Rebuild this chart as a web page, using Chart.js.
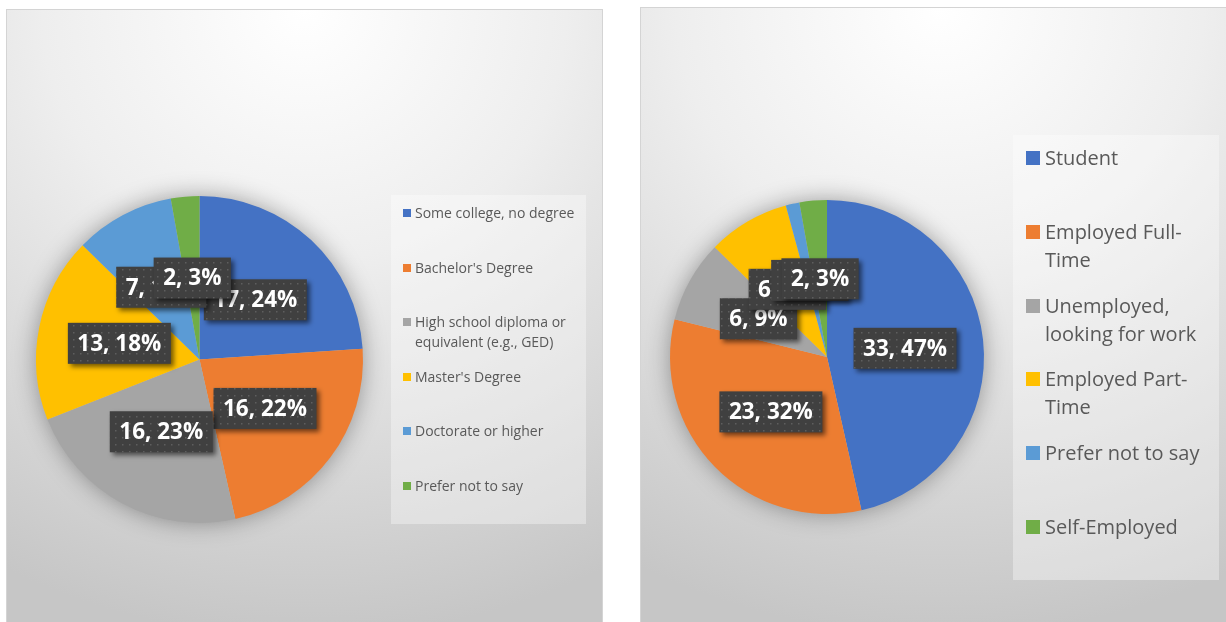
<!DOCTYPE html>
<html>
<head>
<meta charset="utf-8">
<script src="https://cdn.jsdelivr.net/npm/chart.js@4.4.1/dist/chart.umd.min.js"></script>
<style>
  body { margin: 0; width: 1226px; height: 622px; overflow: hidden; position: relative; background: #fff; font-family: "Open Sans", sans-serif; }
  .panel { position: absolute; box-sizing: border-box; border: 1px solid #d4d4d4;
    background: radial-gradient(ellipse 110% 100% at 50% 0%, #ffffff 0%, #eeeeee 40%, #d9d9d9 72%, #c6c6c6 100%); }
  .wrap { position: absolute; top: 0; width: 613px; height: 622px; }
  .legend { position: absolute; background: rgba(255,255,255,0.35); }
  .item { position: absolute; color: #595959; }
  .item .mk { position: absolute; left: 0; }
</style>
</head>
<body>
<div class="panel" style="left:6px;top:9px;width:597px;height:630px;"></div>
<div class="panel" style="left:640px;top:7px;width:600px;height:630px;"></div>

<div class="wrap" style="left:0;"><canvas id="eduChart"></canvas></div>
<div class="wrap" style="left:613px;"><canvas id="jobChart"></canvas></div>

<div class="legend" id="eduLegend" style="left:391px;top:195px;width:195px;height:329px;"></div>
<div class="legend" id="jobLegend" style="left:1013px;top:135px;width:206px;height:445px;"></div>

<script>
// Education chart data
const eduLabels = ['Some college, no degree', "Bachelor's Degree", 'High school diploma or equivalent (e.g., GED)', "Master's Degree", 'Doctorate or higher', 'Prefer not to say'];
const eduValues = [17, 16, 16, 13, 7, 2];
const eduPercents = [24, 22, 23, 18, 10, 3];

// Employment chart data
const jobLabels = ['Student', 'Employed Full-Time', 'Unemployed, looking for work', 'Employed Part-Time', 'Prefer not to say', 'Self-Employed'];
const jobValues = [33, 23, 6, 6, 1, 2];
const jobPercents = [47, 32, 9, 8, 1, 3];

const sliceColors = ['#4472C4', '#ED7D31', '#A5A5A5', '#FFC000', '#5B9BD5', '#70AD47'];

// dotted fill for the label boxes
const dotCanvas = document.createElement('canvas');
dotCanvas.width = 7; dotCanvas.height = 7;
const dctx = dotCanvas.getContext('2d');
dctx.fillStyle = '#404040';
dctx.fillRect(0, 0, 7, 7);
dctx.fillStyle = '#5e5e5e';
dctx.fillRect(3, 3, 1.5, 1.5);

// soft shadow under the pie + dark value boxes on top
const sliceLabels = {
    id: 'sliceLabels',
    beforeDatasetsDraw(chart) {
        const arc = chart.getDatasetMeta(0).data[0];
        const ctx = chart.ctx;
        ctx.save();
        ctx.shadowColor = 'rgba(0,0,0,0.38)';
        ctx.shadowBlur = 24;
        ctx.fillStyle = '#bdbdbd';
        ctx.beginPath();
        ctx.arc(arc.x, arc.y, arc.outerRadius - 1, 0, Math.PI * 2);
        ctx.fill();
        ctx.restore();
    },
    afterDatasetsDraw(chart, args, opts) {
        const ctx = chart.ctx;
        const meta = chart.getDatasetMeta(0);
        const values = chart.data.datasets[0].data;
        const pattern = ctx.createPattern(dotCanvas, 'repeat');
        ctx.save();
        ctx.font = 'bold 22.5px "Open Sans"';
        ctx.textAlign = 'center';
        ctx.textBaseline = 'middle';
        meta.data.forEach((arc, i) => {
            const p = arc.tooltipPosition();
            const text = values[i] + ', ' + opts.percents[i] + '%';
            const w = ctx.measureText(text).width + 19;
            const h = 41;
            ctx.save();
            ctx.shadowColor = 'rgba(0,0,0,0.55)';
            ctx.shadowBlur = 5;
            ctx.shadowOffsetX = 3;
            ctx.shadowOffsetY = 3;
            ctx.fillStyle = pattern;
            ctx.fillRect(p.x - w / 2, p.y - h / 2, w, h);
            ctx.restore();
            ctx.fillStyle = '#ffffff';
            ctx.fillText(text, p.x, p.y + 1);
        });
        ctx.restore();
    }
};

function makePie(id, labels, values, percents, padding) {
    return new Chart(document.getElementById(id), {
        type: 'pie',
        data: {
            labels: labels,
            datasets: [{
                data: values,
                backgroundColor: sliceColors,
                borderWidth: 0,
                hoverOffset: 0,
                offset: 0
            }]
        },
        options: {
            responsive: true,
            maintainAspectRatio: false,
            devicePixelRatio: 1,
            animation: false,
            events: [],
            layout: { padding: padding },
            plugins: {
                legend: { display: false },
                tooltip: { enabled: false },
                sliceLabels: { percents: percents }
            }
        },
        plugins: [sliceLabels]
    });
}

makePie('eduChart', eduLabels, eduValues, eduPercents, { left: 36, right: 250, top: 196, bottom: 99 });
makePie('jobChart', jobLabels, jobValues, jobPercents, { left: 57, right: 242, top: 200, bottom: 108 });

// HTML legends in fixed slots like the original
function buildLegend(id, labels, cfg) {
    const box = document.getElementById(id);
    labels.forEach((label, i) => {
        const item = document.createElement('div');
        item.className = 'item';
        item.style.left = cfg.left + 'px';
        item.style.top = (cfg.first + i * cfg.step - cfg.line / 2) + 'px';
        item.style.width = cfg.width + 'px';
        item.style.paddingLeft = cfg.indent + 'px';
        item.style.font = cfg.size + 'px "Open Sans"';
        item.style.lineHeight = cfg.line + 'px';

        const mk = document.createElement('span');
        mk.className = 'mk';
        mk.style.width = cfg.mark + 'px';
        mk.style.height = cfg.mark + 'px';
        mk.style.top = ((cfg.line - cfg.mark) / 2) + 'px';
        mk.style.background = sliceColors[i];
        item.appendChild(mk);
        item.appendChild(document.createTextNode(label));
        box.appendChild(item);
    });
}

buildLegend('eduLegend', eduLabels, { left: 12, first: 18, step: 54.6, line: 20, size: 14, mark: 8, indent: 12, width: 168 });
buildLegend('jobLegend', jobLabels, { left: 13, first: 23, step: 73.8, line: 28, size: 20, mark: 14, indent: 19, width: 166 });
</script>
</body>
</html>
